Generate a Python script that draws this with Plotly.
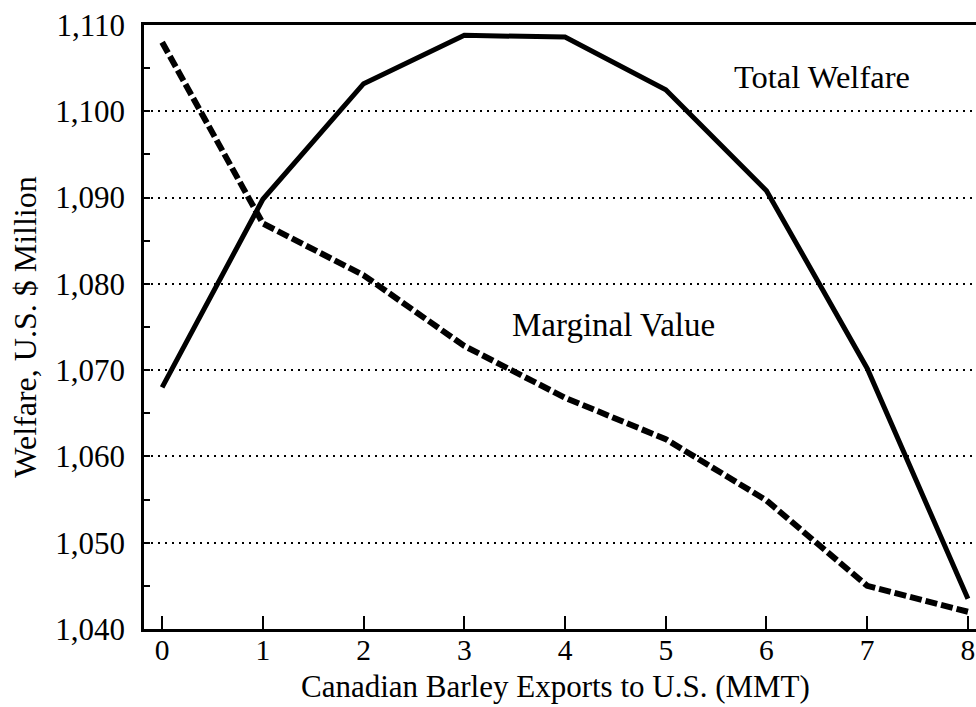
import plotly.graph_objects as go

# Canadian barley exports to the U.S. (million metric tonnes)
exports_mmt = [0, 1, 2, 3, 4, 5, 6, 7, 8]

# Welfare in U.S. $ million
total_welfare = [1068.0, 1089.8, 1103.2, 1108.8, 1108.6, 1102.5, 1090.8, 1070.2, 1043.5]
marginal_value = [1108.0, 1087.0, 1081.0, 1072.8, 1066.8, 1062.0, 1054.9, 1045.0, 1042.0]

y_ticks = [1040, 1050, 1060, 1070, 1080, 1090, 1100, 1110]
y_tick_text = [f"{v:,}" for v in y_ticks]

FONT = "Liberation Serif, Times New Roman, serif"

fig = go.Figure()

fig.add_trace(go.Scatter(
    x=exports_mmt, y=total_welfare, mode="lines",
    line=dict(color="black", width=5),
    name="Total Welfare", showlegend=False,
))
fig.add_trace(go.Scatter(
    x=exports_mmt, y=marginal_value, mode="lines",
    line=dict(color="black", width=6, dash="12px,4px"),
    name="Marginal Value", showlegend=False,
))

fig.add_annotation(x=6.55, y=1104.0, text="Total Welfare", showarrow=False,
                   font=dict(family=FONT, size=32.5, color="black"),
                   xanchor="center", yanchor="middle")
fig.add_annotation(x=4.48, y=1075.2, text="Marginal Value", showarrow=False,
                   font=dict(family=FONT, size=33, color="black"),
                   xanchor="center", yanchor="middle")

# x-axis title placed below the tick labels
fig.add_annotation(xref="paper", yref="paper", x=0.495, y=-0.0945,
                   text="Canadian Barley Exports to U.S. (MMT)", showarrow=False,
                   font=dict(family=FONT, size=31, color="black"),
                   xanchor="center", yanchor="middle")

fig.update_layout(
    width=976, height=707,
    margin=dict(l=144, r=0, t=25, b=78),
    paper_bgcolor="white", plot_bgcolor="white",
    font=dict(family=FONT, size=30, color="black"),
)

fig.update_xaxes(
    range=[-0.18, 8.08],
    tickvals=exports_mmt,
    ticks="inside", ticklen=13, tickwidth=2, tickcolor="black",
    ticklabelstandoff=-7,
    showline=True, linecolor="black", linewidth=2.5, mirror=True,
    showgrid=False, zeroline=False,
    tickfont=dict(family=FONT, size=29.5, color="black"),
)

fig.update_yaxes(
    range=[1040, 1110],
    tickvals=y_ticks, ticktext=y_tick_text,
    ticks="inside", ticklen=6, tickwidth=2, tickcolor="black",
    ticklabelstandoff=10,
    minor=dict(dtick=5, tick0=1040, ticks="inside", ticklen=6, tickwidth=2,
               tickcolor="black", showgrid=False),
    showline=True, linecolor="black", linewidth=2.5,
    showgrid=True, gridcolor="black", gridwidth=1.5, griddash="2px,5px",
    zeroline=False,
    tickfont=dict(family=FONT, size=31, color="black"),
    title=dict(text="Welfare, U.S. $ Million",
               font=dict(family=FONT, size=32, color="black"), standoff=10),
)

fig.write_html("out.html")
